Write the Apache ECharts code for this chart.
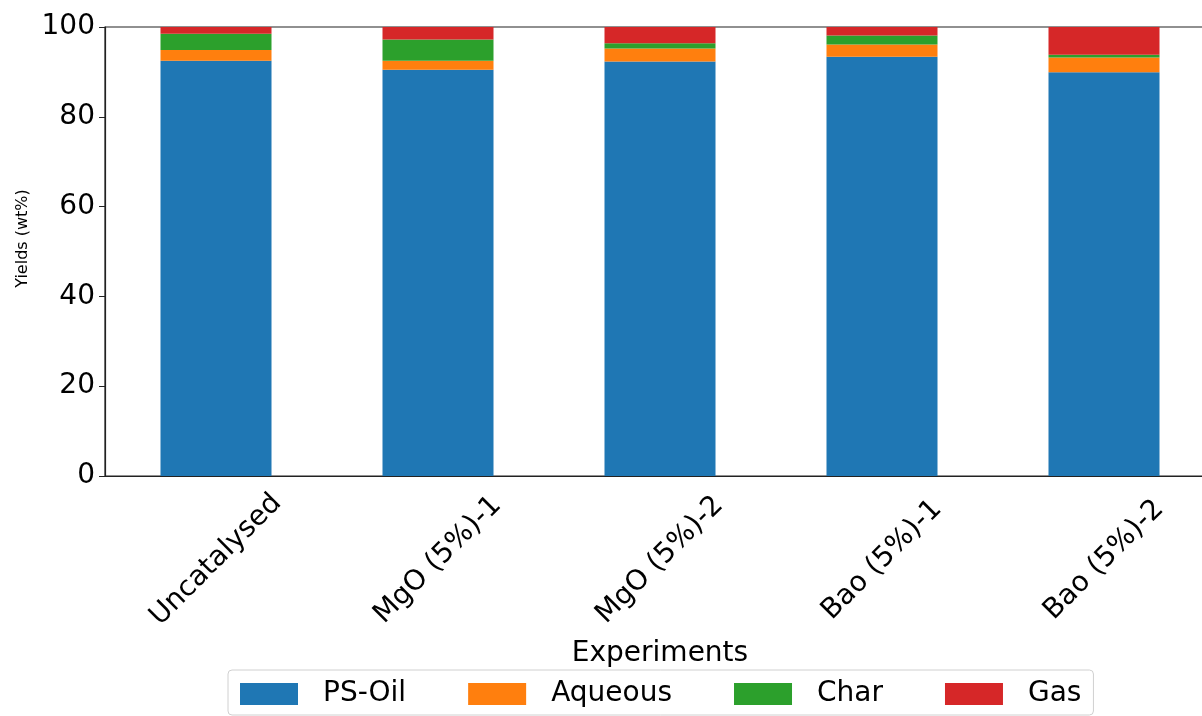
<!DOCTYPE html>
<html>
<head>
<meta charset="utf-8">
<script src="https://cdn.jsdelivr.net/npm/echarts@6/dist/echarts.min.js"></script>
<style>
  html, body { margin: 0; padding: 0; background: #fff; }
  #main { width: 1202px; height: 716px; }
</style>
</head>
<body>
<div id="main"></div>
<script>
// 数据
var experiments = ['Uncatalysed', 'MgO (5%)-1', 'MgO (5%)-2', 'Bao (5%)-1', 'Bao (5%)-2'];
var psOil = [92.5, 90.5, 92.3, 93.4, 89.9];
var aqueous = [2.4, 2.0, 2.9, 2.7, 3.3];
var charYield = [3.6, 4.7, 1.2, 2.0, 0.6];
var gas = [1.5, 2.8, 3.6, 1.9, 6.2];
var yTicks = [0, 20, 40, 60, 80, 100];

(function () {
    var myChart = echarts.init(document.getElementById('main'));
    var font = 'DejaVu Sans';

    function bar(name, data, color) {
        return {
            name: name,
            type: 'bar',
            stack: 'total',
            barWidth: '50%',
            data: data,
            itemStyle: { color: color },
            emphasis: { disabled: true }
        };
    }

    var option = {
        animation: false,
        textStyle: { fontFamily: font },
        // 右边框在画面外
        grid: {
            left: 105, top: 27, width: 1110, height: 449,
            outerBoundsMode: 'none',
            show: true, borderColor: '#222', borderWidth: 1.2
        },
        legend: {
            data: ['PS-Oil', 'Aqueous', 'Char', 'Gas'],
            left: 228,
            top: 670,
            itemWidth: 58,
            itemHeight: 22,
            itemGap: 62,
            padding: [10, 12, 7, 12],
            borderColor: '#d0d0d0',
            borderWidth: 1,
            borderRadius: 4,
            icon: 'rect',
            textStyle: { fontSize: 28, color: '#000', fontFamily: font, padding: [0, 0, 0, 20] }
        },
        xAxis: {
            type: 'category',
            data: experiments,
            name: 'Experiments',
            nameLocation: 'middle',
            nameGap: 164,
            nameTextStyle: { fontSize: 28, color: '#000', fontFamily: font },
            axisLine: { lineStyle: { color: '#222', width: 1.2 } },
            axisTick: { alignWithLabel: true, length: 6, lineStyle: { color: '#222' } },
            axisLabel: {
                rotate: 45,
                align: 'center',
                verticalAlign: 'middle',
                margin: 84,
                fontSize: 28,
                color: '#000',
                fontFamily: font
            }
        },
        yAxis: {
            type: 'value',
            min: yTicks[0],
            max: yTicks[yTicks.length - 1],
            interval: 20,
            name: 'Yields (wt%)',
            nameLocation: 'middle',
            nameGap: 73,
            nameTextStyle: { fontSize: 16, color: '#000', fontFamily: font, padding: [0, 0, 0, 26] },
            splitLine: { show: false },
            axisLine: { show: true, lineStyle: { color: '#222', width: 1.2 } },
            axisTick: { show: true, length: 6, lineStyle: { color: '#222' } },
            axisLabel: { fontSize: 28, color: '#000', fontFamily: font, margin: 10 }
        },
        series: [
            bar('PS-Oil', psOil, '#1f77b4'),
            bar('Aqueous', aqueous, '#ff7f0e'),
            bar('Char', charYield, '#2ca02c'),
            bar('Gas', gas, '#d62728')
        ]
    };
    myChart.setOption(option);
})();
</script>
</body>
</html>
